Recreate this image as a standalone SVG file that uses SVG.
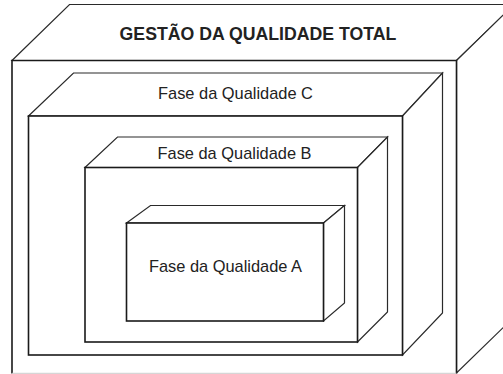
<svg xmlns="http://www.w3.org/2000/svg" width="503" height="374" viewBox="0 0 503 374">
<style>
.face{fill:#ffffff;stroke:#2a2a2a;stroke-width:1.2;stroke-linejoin:miter}
.front{fill:#ffffff;stroke:#1a1a1a;stroke-width:1.6}
.lbl{font-family:"Liberation Sans",Arial,sans-serif;fill:#222;text-anchor:middle}
</style>
<rect width="503" height="374" fill="#ffffff"/>
<g id="total">
<polygon class="face" points="12,60.5 69.5,4.5 514,4.5 456.5,60.5"/>
<polygon class="face" points="456.5,60.5 514,4.5 514,317 456.5,373"/>
<rect x="12" y="60.5" width="444.5" height="312.5" fill="#ffffff"/>
<polyline points="12,373.5 12,60.5 456.5,60.5 456.5,373.5" fill="none" stroke="#1a1a1a" stroke-width="1.6"/>
<line x1="12" y1="373.3" x2="456.5" y2="373.3" stroke="#cccccc" stroke-width="1"/>
<text class="lbl" x="258" y="40" font-size="17.7" font-weight="bold">GESTÃO DA QUALIDADE TOTAL</text>
</g>
<g id="faseC">
<polygon class="face" points="28.5,116 73.5,73 442.5,73 402.5,116"/>
<polygon class="face" points="402.5,116 442.5,73 442.5,313 402.5,355"/>
<rect class="front" x="28.5" y="116" width="374" height="239"/>
<text class="lbl" x="235.5" y="99" font-size="16.4">Fase da Qualidade C</text>
</g>
<g id="faseB">
<polygon class="face" points="85,167.5 117.5,137 387.5,137 357.5,167.5"/>
<polygon class="face" points="357.5,167.5 387.5,137 387.5,312 357.5,342"/>
<rect class="front" x="85" y="167.5" width="272.5" height="174.5"/>
<text class="lbl" x="234.5" y="159" font-size="16.4">Fase da Qualidade B</text>
</g>
<g id="faseA">
<polygon class="face" points="126.5,223 150.5,205.5 344.5,205.5 323.5,223"/>
<polygon class="face" points="323.5,223 344.5,205.5 344.5,303 323.5,321"/>
<rect class="front" x="126.5" y="223" width="197" height="98"/>
<text class="lbl" x="225.5" y="272" font-size="16.4">Fase da Qualidade A</text>
</g>
<g id="connectors"></g>
</svg>
